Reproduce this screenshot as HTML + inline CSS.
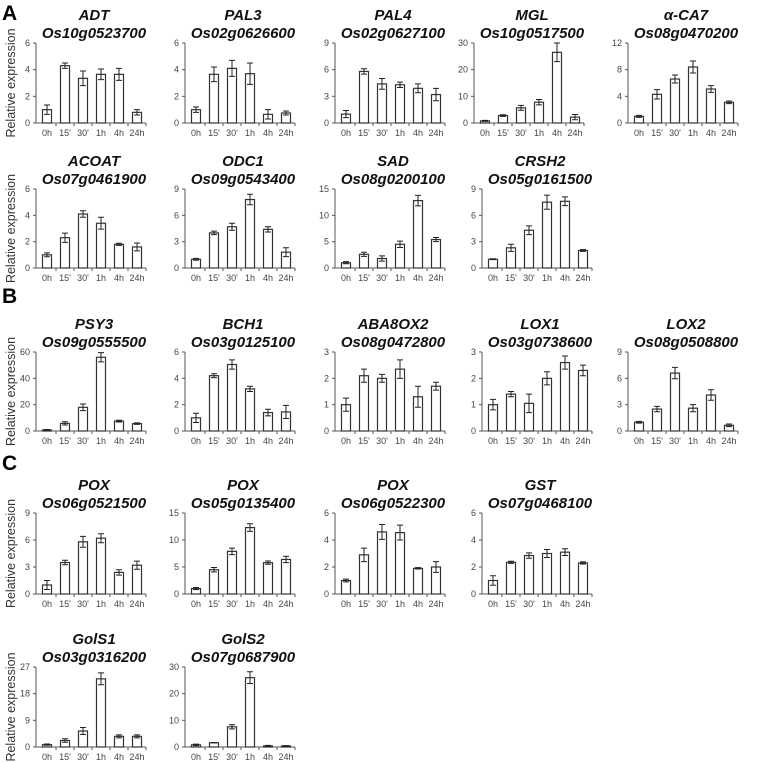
<!DOCTYPE html>
<html><head><meta charset="utf-8"><style>
html,body{margin:0;padding:0;background:#fff;}
svg{display:block;}
</style></head><body>
<svg id="fig" width="760" height="763" viewBox="0 0 760 763" xmlns="http://www.w3.org/2000/svg" font-family="Liberation Sans, Arial, sans-serif">
<text x="2" y="20" font-size="21" font-weight="bold">A</text>
<text x="2" y="303" font-size="21" font-weight="bold">B</text>
<text x="2" y="470" font-size="21" font-weight="bold">C</text>
</svg>
<script>
const categories = ["0h","15'","30'","1h","4h","24h"];
const genes = ["ADT","PAL3","PAL4","MGL","\u03b1-CA7","ACOAT","ODC1","SAD","CRSH2","PSY3","BCH1","ABA8OX2","LOX1","LOX2","POX","POX","POX","GST","GolS1","GolS2"];
const loci = ["Os10g0523700","Os02g0626600","Os02g0627100","Os10g0517500","Os08g0470200","Os07g0461900","Os09g0543400","Os08g0200100","Os05g0161500","Os09g0555500","Os03g0125100","Os08g0472800","Os03g0738600","Os08g0508800","Os06g0521500","Os05g0135400","Os06g0522300","Os07g0468100","Os03g0316200","Os07g0687900"];
const yMax = [6,6,9,30,12,6,9,15,9,60,6,3,3,9,9,15,6,6,27,30];
const values = [
 [1.0,4.3,3.35,3.65,3.65,0.8],
 [1.0,3.65,4.1,3.7,0.65,0.75],
 [1.0,5.8,4.4,4.3,3.9,3.2],
 [0.8,2.8,5.7,7.8,26.5,2.2],
 [1.0,4.3,6.6,8.4,5.1,3.1],
 [1.0,2.3,4.1,3.4,1.8,1.6],
 [1.0,4.0,4.7,7.8,4.4,1.8],
 [1.0,2.6,1.8,4.5,12.8,5.4],
 [1.0,2.3,4.3,7.5,7.6,2.0],
 [0.8,5.8,18,56,7.5,5.6],
 [1.0,4.2,5.05,3.2,1.4,1.45],
 [1.0,2.1,2.0,2.35,1.3,1.7],
 [1.0,1.4,1.05,2.0,2.6,2.3],
 [1.0,2.5,6.6,2.6,4.1,0.65],
 [1.0,3.5,5.8,6.2,2.4,3.2],
 [1.0,4.5,7.9,12.3,5.8,6.4],
 [1.0,2.9,4.6,4.55,1.9,2.0],
 [1.0,2.35,2.85,3.0,3.1,2.3],
 [0.8,2.2,5.4,23,3.6,3.6],
 [0.8,1.6,7.6,26,0.4,0.4]
];
const errors = [
 [0.35,0.2,0.55,0.4,0.45,0.2],
 [0.2,0.55,0.6,0.8,0.35,0.15],
 [0.4,0.3,0.6,0.3,0.5,0.7],
 [0.2,0.3,0.9,1.0,3.5,1.0],
 [0.15,0.7,0.6,0.9,0.5,0.2],
 [0.15,0.35,0.25,0.45,0.08,0.3],
 [0.1,0.2,0.4,0.6,0.3,0.5],
 [0.2,0.4,0.5,0.6,1.0,0.4],
 [0.05,0.4,0.5,0.8,0.5,0.1],
 [0.3,1.2,2.5,3.5,0.7,0.6],
 [0.35,0.15,0.35,0.2,0.25,0.5],
 [0.25,0.25,0.15,0.35,0.4,0.15],
 [0.2,0.1,0.35,0.25,0.25,0.2],
 [0.1,0.3,0.65,0.4,0.6,0.15],
 [0.5,0.25,0.6,0.5,0.3,0.45],
 [0.2,0.4,0.6,0.7,0.3,0.6],
 [0.1,0.5,0.55,0.55,0.05,0.4],
 [0.35,0.08,0.2,0.3,0.25,0.08],
 [0.2,0.6,1.2,2.0,0.5,0.5],
 [0.3,0.05,0.8,2.2,0.2,0.1]
];
// layout (row index, column index)
const panelRow = [0,0,0,0,0,1,1,1,1,2,2,2,2,2,3,3,3,3,4,4];
const panelCol = [0,1,2,3,4,0,1,2,3,0,1,2,3,4,0,1,2,3,0,1];
const rowTop = [43,189,352,513,667];
const rowZero = [123,268,431,594,747];
const colAxis = [36,185,335,482,628];

const NS = "http://www.w3.org/2000/svg";
const svg = document.getElementById('fig');
function mk(tag, attrs, parent){
  const e = document.createElementNS(NS, tag);
  for (const k in attrs) e.setAttribute(k, attrs[k]);
  (parent||svg).appendChild(e);
  return e;
}
const PW = 110, STEP = 18, BW = 9;

for (let p = 0; p < genes.length; p++) {
  const r = panelRow[p], c = panelCol[p];
  const top = rowTop[r], zero = rowZero[r], ax = (colAxis[c] - (yMax[p] >= 10 && c===3 ? 8 : 0));
  const g = mk('g', {});
  
  
  const yS = v => zero - (v / yMax[p]) * (zero - top);
  const xC = i => ax + 11 + i * STEP;
  const cx = ax + 58;
  const t1 = mk('text', {x: cx, y: top - 23, 'text-anchor':'middle', 'font-size':'15', 'font-weight':'bold', 'font-style':'italic', fill:'#111'}, g);
  t1.textContent = genes[p];
  
  
  const t2 = mk('text', {x: cx, y: top - 5, 'text-anchor':'middle', 'font-size':'15', 'font-weight':'bold', 'font-style':'italic', fill:'#111'}, g);
  t2.textContent = loci[p];
  
  
  const ya = mk('line', {x1: ax, y1: top, x2: ax, y2: zero, stroke:'#555', 'stroke-width':1}, g);
  
  
  for (let k = 0; k <= 3; k++) {
    const v = yMax[p] * k / 3, y = yS(v);
    mk('line', {x1: ax - 3, y1: y, x2: ax, y2: y, stroke:'#555', 'stroke-width':1}, g);
    const tl = mk('text', {x: ax - 6, y: y + 3, 'text-anchor':'end', 'font-size':'9', fill:'#444'}, g);
    tl.textContent = String(Math.round(v));
    
    
  }
  const xa = mk('line', {x1: ax, y1: zero, x2: ax + PW, y2: zero, stroke:'#555', 'stroke-width':1}, g);
  
  
  for (let i = 0; i < categories.length; i++) {
    const xt = ax + 2 + (i + 1) * STEP;
    mk('line', {x1: xt, y1: zero, x2: xt, y2: zero + 3, stroke:'#555', 'stroke-width':1}, g);
    const x = xC(i), v = values[p][i], e = errors[p][i];
    const yb = yS(v);
    const bar = mk('rect', {x: x - BW/2, y: yb, width: BW, height: zero - yb, fill:'#fff', stroke:'#333', 'stroke-width':1.2}, g);
    
    
    const y1 = yS(v + e), y2 = yS(Math.max(0, v - e));
    const eb = mk('path', {d:`M${x},${y1}V${y2}M${x-3},${y1}H${x+3}M${x-3},${y2}H${x+3}`, stroke:'#222', 'stroke-width':1, fill:'none'}, g);
    
    
    const xl = mk('text', {x: x, y: zero + 13, 'text-anchor':'middle', 'font-size':'9', fill:'#444'}, g);
    xl.textContent = categories[i];
    
    
  }
  if (c === 0) {
    const my = (top + zero) / 2;
    const yl = mk('text', {x: 15, y: my, transform:`rotate(-90 15 ${my})`, 'text-anchor':'middle', 'font-size':'12.5', fill:'#333'}, g);
    yl.textContent = 'Relative expression';
    
    
  }
}
</script>
</body></html>
